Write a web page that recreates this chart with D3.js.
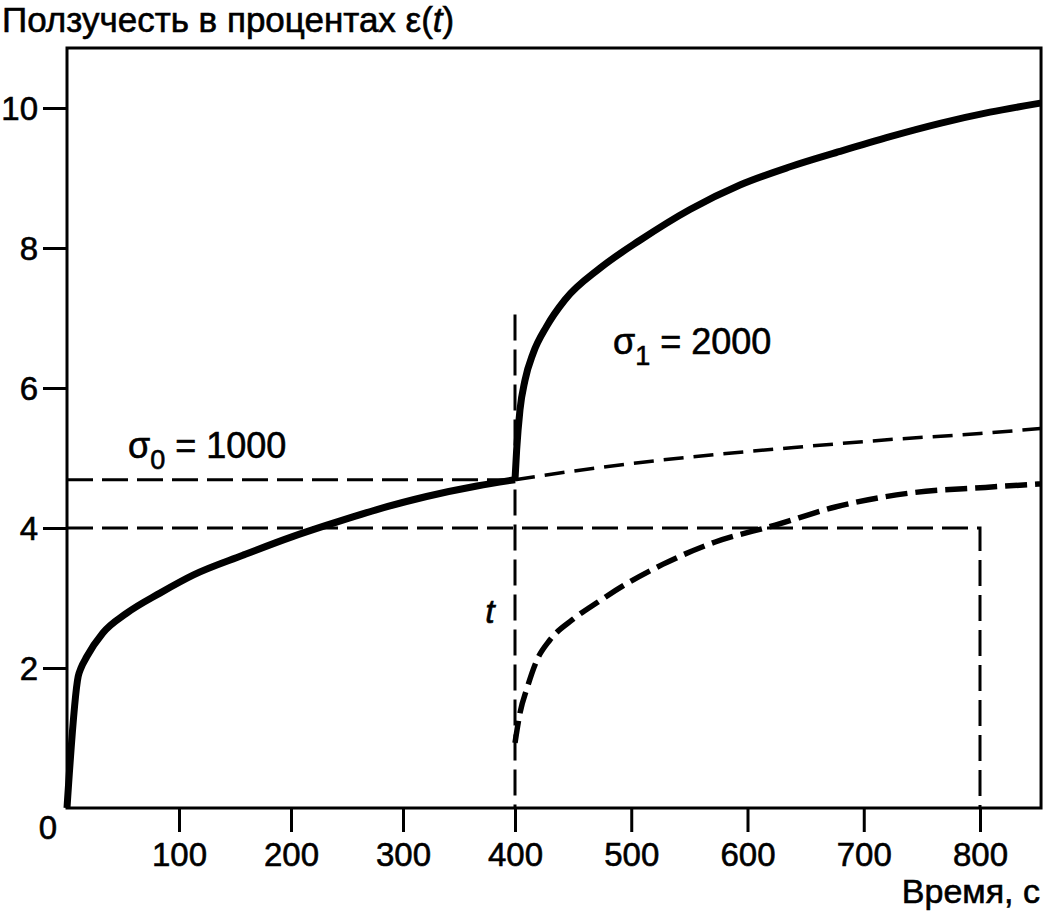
<!DOCTYPE html>
<html lang="ru">
<head>
    <meta charset="UTF-8">
    <title>Ползучесть</title>
    <script src="https://cdnjs.cloudflare.com/ajax/libs/d3/7.8.5/d3.min.js"></script>
    <style>
        * { margin: 0; padding: 0; }
        body { background: #fff; width: 1048px; height: 912px; overflow: hidden; }
        svg { display: block; font-family: "Liberation Sans", Arial, sans-serif; }
        svg text { fill: #000; stroke: #000; stroke-width: 0.6px; }
        .axis text { font-size: 33px; }
        .axis line { stroke: #000; stroke-width: 3; }
    </style>
</head>
<body>
<div id="chart"></div>
<script>
    // creep under sigma0 = 1000 up to t = 400
    const time0 = [0, 10, 12.5, 17.6, 32, 53, 83, 113, 157, 202, 232, 276, 321, 366, 400];
    const strain0 = [0, 1.88, 2.0, 2.16, 2.5, 2.78, 3.07, 3.33, 3.61, 3.88, 4.04, 4.26, 4.45, 4.6, 4.69];

    // creep after load raised to sigma1 = 2000
    const time1 = [400, 401.4, 404.3, 408.6, 415.7, 427.2, 443, 473, 507.5, 550.5, 593.5, 636.6, 679.6, 722.6, 765.6, 808.6, 852];
    const strain1 = [4.69, 5.11, 5.69, 6.11, 6.5, 6.88, 7.26, 7.71, 8.11, 8.55, 8.9, 9.16, 9.38, 9.59, 9.78, 9.94, 10.07];

    // sigma0 curve continued (thin dashed)
    const timeCont = [400, 480, 560, 640, 720, 800, 852];
    const strainCont = [4.69, 4.88, 5.03, 5.15, 5.26, 5.35, 5.42];

    // additional creep from the load step (heavy dashed)
    const timeAdd = [400, 404.2, 410.7, 418.8, 430, 449.4, 472, 494.6, 527, 572.2, 623.8, 675.5, 740, 804.6, 852];
    const strainAdd = [0.93, 1.35, 1.73, 2.11, 2.4, 2.69, 2.95, 3.19, 3.48, 3.8, 4.04, 4.3, 4.5, 4.58, 4.63];

    const xTicks = [100, 200, 300, 400, 500, 600, 700, 800];
    const yTicks = [2, 4, 6, 8, 10];

    const stepTime = 400;
    const stepStrain = 4.69;
    const stepLineTop = 7.05;
    const refStrain = 4;
    const refTime = 800;

    const width = 1048, height = 912;

    const svg = d3.select('#chart').append('svg')
        .attr('width', width)
        .attr('height', height);

    const x = d3.scaleLinear().domain([0, 400, 800]).range([67, 515, 980]);
    const y = d3.scaleLinear().domain([0, 10.857]).range([808, 48]);
    const xMax = 852.5;

    const line = d3.line()
        .x(d => x(d[0]))
        .y(d => y(d[1]))
        .curve(d3.curveMonotoneX);
    const straight = d3.line().x(d => x(d[0])).y(d => y(d[1]));

    const zip = (a, b) => a.map((v, i) => [v, b[i]]);

    // guide lines
    const guide = svg.append('g')
        .attr('fill', 'none')
        .attr('stroke', '#000')
        .attr('stroke-width', 3)
        .attr('stroke-dasharray', '26,9');

    guide.append('path')
        .attr('d', straight([[0, stepStrain], [stepTime, stepStrain]]));
    guide.append('path')
        .attr('d', straight([[0, refStrain], [refTime, refStrain], [refTime, 0]]));
    guide.append('path')
        .attr('d', straight([[stepTime, stepLineTop], [stepTime, 0]]));

    // curves
    svg.append('path')
        .attr('d', line(zip(timeCont, strainCont)))
        .attr('fill', 'none')
        .attr('stroke', '#000')
        .attr('stroke-width', 3.5)
        .attr('stroke-dasharray', '20,10');

    svg.append('path')
        .attr('d', line(zip(timeAdd, strainAdd)))
        .attr('fill', 'none')
        .attr('stroke', '#000')
        .attr('stroke-width', 5.5)
        .attr('stroke-dasharray', '22,8');

    svg.append('path')
        .attr('d', line(zip(time0, strain0)))
        .attr('fill', 'none')
        .attr('stroke', '#000')
        .attr('stroke-width', 7)
        .attr('stroke-linejoin', 'round');

    svg.append('path')
        .attr('d', line(zip(time1, strain1)))
        .attr('fill', 'none')
        .attr('stroke', '#000')
        .attr('stroke-width', 7)
        .attr('stroke-linejoin', 'round');

    // axes
    const xAxis = svg.append('g')
        .attr('class', 'axis')
        .attr('transform', `translate(0,${y(0)})`)
        .call(d3.axisBottom(x).tickValues(xTicks).tickSize(24).tickFormat(d3.format('d')));
    xAxis.select('.domain').remove();
    xAxis.selectAll('text').attr('y', 58).attr('dy', null);

    const yAxis = svg.append('g')
        .attr('class', 'axis')
        .attr('transform', `translate(${x(0)},0)`)
        .call(d3.axisLeft(y).tickValues(yTicks).tickSize(24).tickPadding(5).tickFormat(d3.format('d')));
    yAxis.select('.domain').remove();
    yAxis.selectAll('text').attr('dy', '0.36em');

    // frame
    svg.append('rect')
        .attr('x', x(0))
        .attr('y', y.range()[1])
        .attr('width', x(xMax) - x(0))
        .attr('height', y(0) - y.range()[1])
        .attr('fill', 'none')
        .attr('stroke', '#000')
        .attr('stroke-width', 3);

    // texts
    const title = svg.append('text')
        .attr('x', 2).attr('y', 32)
        .attr('font-size', 35);
    title.append('tspan').text('Ползучесть в процентах ε(');
    title.append('tspan').attr('font-style', 'italic').text('t');
    title.append('tspan').text(')');

    svg.append('text')
        .attr('x', 1040).attr('y', 903)
        .attr('text-anchor', 'end')
        .attr('font-size', 34)
        .text('Время, с');

    svg.append('text')
        .attr('x', 48).attr('y', 839)
        .attr('text-anchor', 'middle')
        .attr('font-size', 33)
        .text('0');

    svg.append('text')
        .attr('x', 490).attr('y', 623)
        .attr('text-anchor', 'middle')
        .attr('font-size', 34)
        .attr('font-style', 'italic')
        .text('t');

    function sigmaLabel(px, py, sub, rest) {
        const t = svg.append('text').attr('x', px).attr('y', py).attr('font-size', 36);
        t.append('tspan').text('σ');
        t.append('tspan').attr('font-size', 27).attr('dy', 11).text(sub);
        t.append('tspan').attr('dy', -11).text(rest);
    }
    sigmaLabel(128, 458, '0', ' = 1000');
    sigmaLabel(613, 354, '1', ' = 2000');
</script>
</body>
</html>
